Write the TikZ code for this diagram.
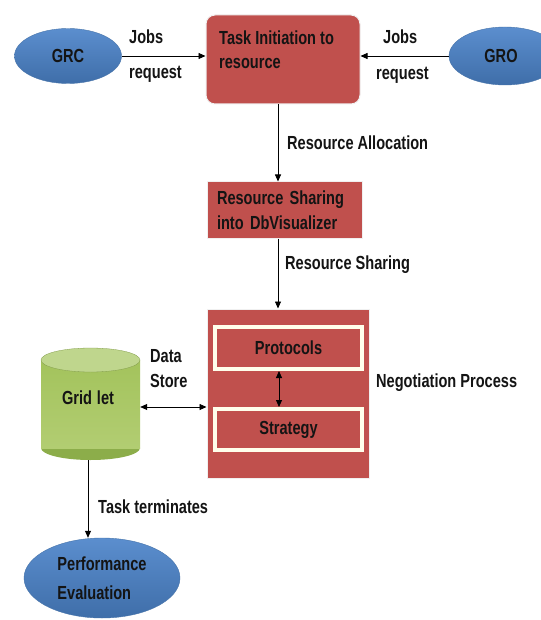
\documentclass[tikz,border=0pt]{standalone}
\usepackage{fontspec}
\setmainfont{Liberation Sans}
\newfontfamily\narrowfont{Liberation Sans}[FakeStretch=0.77]
\usetikzlibrary{shapes.geometric,arrows.meta,calc}
\definecolor{boxred}{HTML}{C0504D}
\definecolor{elblue}{HTML}{4F81BD}
\definecolor{elbluetop}{HTML}{5B8ECE}
\definecolor{elbluebot}{HTML}{3F6EA9}
\definecolor{cylA}{HTML}{A3C35C}
\definecolor{cylB}{HTML}{C4DA8C}
\definecolor{cylC}{HTML}{B2CD72}
\definecolor{cylRim}{HTML}{8CAD4A}
\definecolor{cylTop}{HTML}{BFD68D}
\definecolor{txtdark}{HTML}{141414}
\begin{document}
\begin{tikzpicture}[x=1bp,y=-1bp,
  every node/.style={font=\narrowfont\fontsize{19}{22}\selectfont\bfseries, text=txtdark},
  arr/.style={-{Triangle[length=7bp,width=6bp]}, line width=0.8bp, black},
  biarr/.style={{Triangle[length=7bp,width=6bp]}-{Triangle[length=7bp,width=6bp]}, line width=0.8bp, black},
  blueell/.style={ellipse, top color=elbluetop, bottom color=elbluebot, draw=elblue!90!black, line width=0.4bp, inner sep=0pt},
  redbox/.style={rectangle, fill=boxred, draw=black!6, line width=1bp, inner sep=0pt},
  innerbox/.style={rectangle, fill=boxred, draw=white!92!yellow, line width=4bp, minimum width=147bp, inner sep=0pt},
  lbl/.style={anchor=west, inner sep=0pt}
]
\useasboundingbox (0,0) rectangle (541,620);
\fill[white] (0,0) rectangle (541,620);

% ellipses
\node[blueell, minimum width=107bp, minimum height=55bp] (grc) at (68,56) {GRC};
\node[blueell, minimum width=112bp, minimum height=58bp] (gro) at (505,56) {\hspace*{-8bp}GRO};

% task initiation box
\node[rectangle, rounded corners=9bp, fill=boxred, draw=black!6, line width=1bp, minimum width=154bp, minimum height=89bp] (task) at (283,59.5) {};
\node[lbl, align=left, font=\narrowfont\fontsize{19}{24}\selectfont\bfseries] (tasktext) at (219,50) {Task Initiation to\\resource};

% resource sharing box
\node[redbox, minimum width=155bp, minimum height=56bp, text width=135bp, inner xsep=10bp, align=left, font=\narrowfont\fontsize{19}{25}\selectfont\bfseries] (rs) at (284.5,210) {Resource Sharing\\into DbVisualizer};

% negotiation box
\node[redbox, minimum width=162bp, minimum height=169bp] (neg) at (288,393.5) {};
\node[innerbox, minimum height=42bp] (proto) at (288.5,348) {Protocols};
\node[innerbox, minimum height=41bp] (strat) at (288.5,429.5) {Strategy};

% cylinder
\fill[cylRim] (90.5,448) ellipse [x radius=49.5, y radius=12];
\shade[top color=cylA, middle color=cylB, bottom color=cylC] (41,360) rectangle (140,448);
\fill[cylTop] (90.5,360) ellipse [x radius=49.5, y radius=12];
\draw[cylA!80!black, line width=0.3bp] (90.5,360) ellipse [x radius=49.5, y radius=12];
\node[rectangle, minimum width=99bp, minimum height=112bp, inner sep=0pt] (grid) at (90.5,404) {};
\node[inner sep=0pt] (gridtext) at (88,398) {Grid\hspace{5bp}let};

% performance evaluation
\node[blueell, minimum width=156bp, minimum height=80bp, align=left, font=\narrowfont\fontsize{19}{29}\selectfont\bfseries] (perf) at (102,578) {Performance\\Evaluation\hspace*{6bp}};

% connectors
\draw[arr] (grc.east) -- (grc.east -| task.west);
\draw[arr] (gro.west) -- (gro.west -| task.east);
\draw[arr] ([xshift=-5bp]task.south) -- ([xshift=-5bp]task.south |- rs.north);
\draw[arr] ([xshift=-6.5bp]rs.south) -- ([xshift=-6.5bp]rs.south |- neg.north);
\draw[biarr] ([yshift=-3bp]grid.east) -- ([yshift=-3bp]grid.east -| neg.west);
\draw[biarr] ([xshift=-9.5bp]proto.south) -- ([xshift=-9.5bp]strat.north);
\draw[arr] ([xshift=-2.5bp]grid.south) -- ([xshift=-2.5bp]grid.south |- perf.north);

% labels
\node[lbl] (l1) at (129,37) {Jobs};
\node[lbl] (l2) at (129,74) {request};
\node[lbl] (l3) at (383,37) {Jobs};
\node[lbl] (l4) at (376,75) {request};
\node[lbl] (l5) at (287,143) {Resource Allocation};
\node[lbl] (l6) at (285,265) {Resource Sharing};
\node[lbl] (l7) at (150,356) {Data};
\node[lbl] (l8) at (150,381) {Store};
\node[lbl] (l9) at (376,383) {Negotiation Process};
\node[lbl] (l10) at (98,507) {Task terminates};
\end{tikzpicture}
\end{document}
